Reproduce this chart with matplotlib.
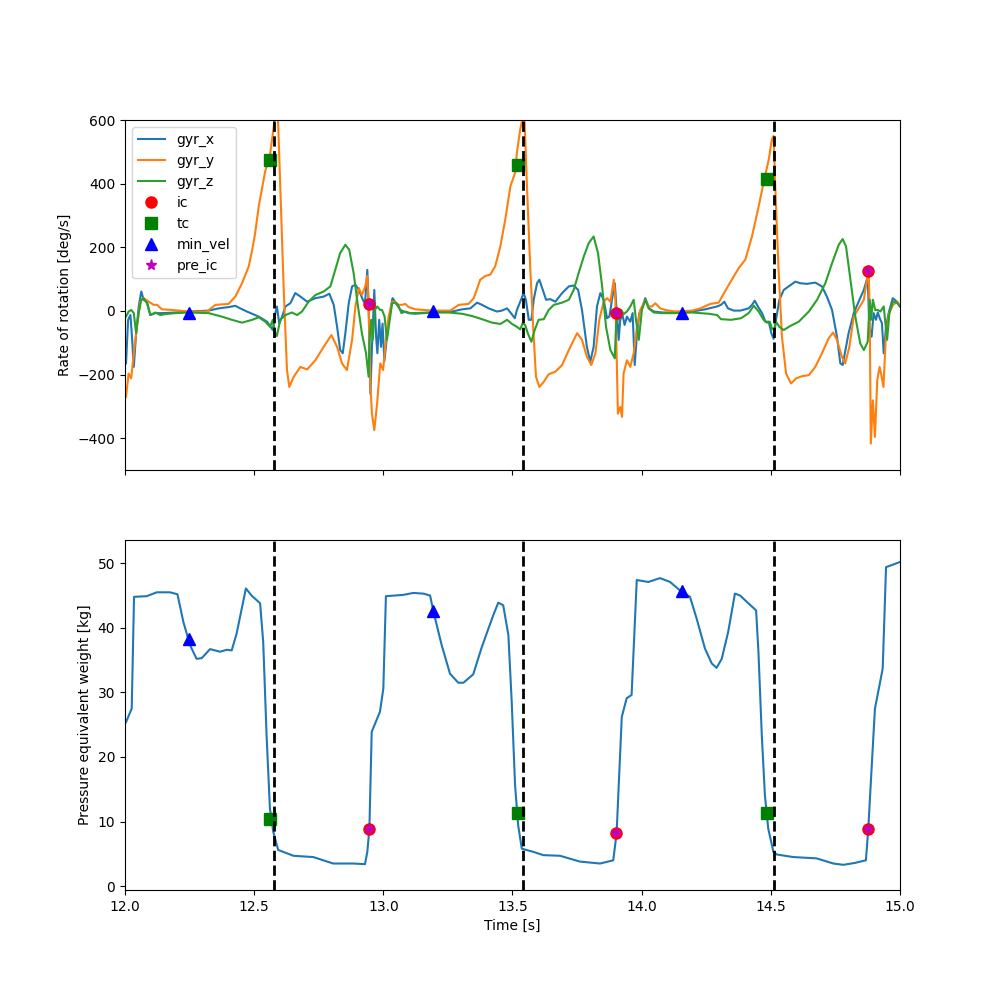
import numpy as np
import matplotlib
matplotlib.use("Agg")
import matplotlib.pyplot as plt

# ---------------------------------------------------------------
# Data (time [s], value)
# ---------------------------------------------------------------
gyr_x_pts = [
    (12.004, -165), (12.012, -28), (12.021, -13), (12.027, -81), (12.034, -176),
    (12.043, -70), (12.053, 14), (12.063, 61), (12.072, 35), (12.085, 29),
    (12.098, -13), (12.117, -7), (12.143, -7), (12.195, -5), (12.247, -2),
    (12.324, 1), (12.363, 8), (12.401, 12), (12.427, 16), (12.446, 8),
    (12.472, -2), (12.492, -9), (12.518, -18), (12.550, -34), (12.572, -60),
    (12.582, -7), (12.588, 14), (12.597, -39), (12.608, -18), (12.621, 14),
    (12.640, 24), (12.659, 56), (12.679, 45), (12.705, 29), (12.737, 40),
    (12.769, 45), (12.791, 54), (12.808, 19), (12.821, -50), (12.833, -123),
    (12.843, -133), (12.853, -70), (12.866, 24), (12.879, 77), (12.892, 82),
    (12.905, 66), (12.924, 29), (12.930, 35), (12.938, 129), (12.943, 14),
    (12.950, -260), (12.956, -113), (12.965, 66), (12.972, -81), (12.977, -133),
    (12.984, -28), (12.991, -113), (12.997, -40), (13.004, -158), (13.018, -50),
    (13.034, 35), (13.036, 40), (13.053, 19), (13.066, 3), (13.079, -2),
    (13.098, -7), (13.124, -9), (13.188, -5), (13.266, -2), (13.305, 5),
    (13.337, 8), (13.363, 26), (13.382, 19), (13.408, 8), (13.440, -2),
    (13.459, 1), (13.479, 8), (13.492, -5), (13.509, -23), (13.517, 3),
    (13.530, 29), (13.543, 56), (13.552, 35), (13.563, -28), (13.573, -28),
    (13.582, 35), (13.595, 87), (13.604, 98), (13.617, 66), (13.630, 35),
    (13.646, 37), (13.666, 29), (13.692, 56), (13.718, 77), (13.737, 80),
    (13.754, 66), (13.769, 3), (13.788, -113), (13.801, -160), (13.814, -113),
    (13.827, 14), (13.840, 56), (13.853, 35), (13.866, -23), (13.875, -18),
    (13.885, 35), (13.896, 87), (13.903, 3), (13.911, -91), (13.917, -28),
    (13.926, -13), (13.934, -44), (13.943, -18), (13.956, -34), (13.965, -7),
    (13.973, -170), (13.982, -70), (13.991, -7), (14.004, 14), (14.014, 40),
    (14.029, 8), (14.047, -2), (14.079, -5), (14.130, -5), (14.195, -2),
    (14.246, 5), (14.292, 14), (14.307, 19), (14.320, 29), (14.334, 8),
    (14.356, 1), (14.382, 1), (14.414, 8), (14.427, 19), (14.438, 32),
    (14.450, 14), (14.466, -7), (14.479, -34), (14.492, -34), (14.502, -70),
    (14.511, -88), (14.520, -28), (14.533, 35), (14.550, 66), (14.569, 77),
    (14.595, 92), (14.614, 87), (14.640, 85), (14.672, 89), (14.698, 77),
    (14.717, 45), (14.737, 3), (14.756, -81), (14.769, -165), (14.778, -170),
    (14.789, -123), (14.801, -70), (14.821, -7), (14.843, 35), (14.860, 66),
    (14.875, 108), (14.881, -50), (14.890, -81), (14.898, -7), (14.907, -28),
    (14.914, -5), (14.924, -28), (14.930, -38), (14.937, -133), (14.946, -50),
    (14.956, -7), (14.972, 40), (14.988, 29), (15.000, 14),
]

gyr_y_pts = [
    (12.004, -270), (12.014, -197), (12.024, -212), (12.034, -133), (12.046, -50),
    (12.059, 29), (12.072, 40), (12.092, 29), (12.111, 19), (12.124, 19),
    (12.143, 5), (12.182, 3), (12.247, -2), (12.317, -2), (12.350, 19),
    (12.401, 22), (12.427, 45), (12.453, 87), (12.479, 140), (12.492, 190),
    (12.503, 240), (12.518, 330), (12.543, 440), (12.562, 495), (12.576, 580),
    (12.585, 680), (12.592, 610), (12.601, 392), (12.614, 77), (12.627, -186),
    (12.636, -239), (12.653, -207), (12.679, -176), (12.705, -184), (12.737, -155),
    (12.769, -113), (12.799, -76), (12.821, -113), (12.840, -165), (12.859, -186),
    (12.879, -91), (12.892, 14), (12.905, 72), (12.917, 50), (12.930, 77),
    (12.938, 110), (12.943, 24), (12.950, -239), (12.956, -323), (12.965, -375),
    (12.976, -291), (12.988, -165), (12.999, -186), (13.010, -90), (13.020, -20),
    (13.034, 29), (13.046, 29), (13.059, 19), (13.072, 19), (13.085, 22),
    (13.098, 12), (13.124, 5), (13.188, 1), (13.259, 1), (13.292, 19),
    (13.330, 22), (13.350, 40), (13.375, 98), (13.395, 110), (13.414, 114),
    (13.433, 140), (13.453, 203), (13.472, 287), (13.492, 392), (13.510, 434),
    (13.517, 497), (13.530, 571), (13.539, 605), (13.543, 615), (13.547, 592),
    (13.556, 392), (13.569, 129), (13.582, -81), (13.591, -207), (13.604, -239),
    (13.621, -223), (13.640, -199), (13.666, -191), (13.692, -170), (13.718, -123),
    (13.750, -70), (13.769, -91), (13.788, -144), (13.805, -170), (13.821, -133),
    (13.836, -28), (13.853, 29), (13.866, 40), (13.879, 29), (13.892, 98),
    (13.898, 40), (13.903, -133), (13.908, -323), (13.917, -302), (13.924, -333),
    (13.930, -197), (13.943, -155), (13.956, -176), (13.969, -133), (13.982, -50),
    (13.995, 3), (14.014, 35), (14.027, 14), (14.040, 14), (14.053, 24),
    (14.072, 8), (14.092, 3), (14.130, -2), (14.195, 1), (14.227, 8),
    (14.266, 22), (14.298, 26), (14.330, 72), (14.376, 135), (14.401, 161),
    (14.427, 234), (14.453, 329), (14.472, 403), (14.492, 476), (14.504, 539),
    (14.511, 550), (14.517, 392), (14.530, 129), (14.543, -81), (14.559, -197),
    (14.578, -228), (14.598, -212), (14.621, -205), (14.647, -202), (14.672, -176),
    (14.698, -133), (14.724, -86), (14.741, -68), (14.756, -91), (14.775, -144),
    (14.788, -165), (14.804, -113), (14.821, -18), (14.840, 8), (14.860, 35),
    (14.872, 98), (14.879, 125), (14.883, -28), (14.887, -417), (14.895, -281),
    (14.903, -396), (14.912, -218), (14.921, -176), (14.929, -207), (14.936, -239),
    (14.945, -81), (14.958, -7), (14.973, 19), (14.990, 29), (15.000, 14),
]

gyr_z_pts = [
    (12.004, -18), (12.014, -2), (12.024, 3), (12.034, -7), (12.043, -70),
    (12.053, -7), (12.063, 35), (12.072, 40), (12.085, 24), (12.098, -13),
    (12.117, -5), (12.137, -13), (12.156, -10), (12.195, -7), (12.247, -5),
    (12.324, -7), (12.375, -18), (12.414, -28), (12.453, -37), (12.479, -31),
    (12.492, -28), (12.518, -20), (12.543, -34), (12.562, -50), (12.572, -28),
    (12.582, -70), (12.588, -79), (12.601, -28), (12.621, -13), (12.646, -5),
    (12.666, -13), (12.685, -2), (12.711, 29), (12.737, 50), (12.769, 61),
    (12.795, 77), (12.814, 129), (12.833, 182), (12.853, 208), (12.868, 192),
    (12.885, 119), (12.902, 14), (12.917, -70), (12.933, -133), (12.943, -207),
    (12.946, -100), (12.953, -28), (12.959, -91), (12.967, 3), (12.976, 14),
    (12.988, 3), (12.995, 3), (13.005, -18), (13.014, -91), (13.023, -39),
    (13.034, 24), (13.044, 26), (13.057, 19), (13.070, -7), (13.085, -2),
    (13.104, -7), (13.188, -5), (13.253, -5), (13.305, -9), (13.343, -16),
    (13.382, -26), (13.421, -37), (13.453, -41), (13.479, -28), (13.498, -41),
    (13.517, -50), (13.530, -58), (13.539, -39), (13.549, -44), (13.559, -70),
    (13.573, -97), (13.586, -60), (13.601, -28), (13.621, -26), (13.640, 3),
    (13.660, 19), (13.692, 26), (13.718, 35), (13.737, 66), (13.756, 119),
    (13.776, 171), (13.795, 213), (13.814, 234), (13.831, 182), (13.847, 77),
    (13.862, -50), (13.879, -123), (13.896, -149), (13.901, -39), (13.908, -7),
    (13.913, -28), (13.921, 3), (13.930, -10), (13.943, -2), (13.956, 14),
    (13.969, 35), (13.978, -28), (13.989, -91), (14.001, 3), (14.014, 35),
    (14.027, 8), (14.047, -5), (14.079, -7), (14.130, -7), (14.195, -5),
    (14.260, -9), (14.292, -13), (14.307, -26), (14.346, -28), (14.385, -23),
    (14.414, -7), (14.434, 16), (14.453, -2), (14.472, -28), (14.485, -37),
    (14.496, -34), (14.504, -55), (14.512, -60), (14.520, -34), (14.533, -50),
    (14.550, -60), (14.576, -47), (14.608, -34), (14.647, -2), (14.679, 35),
    (14.711, 87), (14.737, 150), (14.763, 208), (14.778, 226), (14.791, 203),
    (14.808, 98), (14.827, -18), (14.846, -102), (14.860, -123), (14.875, -97),
    (14.883, 35), (14.888, -28), (14.895, 35), (14.904, 3), (14.914, 3),
    (14.924, -2), (14.937, 14), (14.950, -91), (14.959, -7), (14.972, 29),
    (14.988, 26), (15.000, 14),
]

pressure_pts = [
    (12.004, 25.4), (12.026, 27.5), (12.035, 44.8), (12.084, 44.9), (12.123, 45.5),
    (12.174, 45.5), (12.203, 45.2), (12.226, 40.9), (12.252, 37.3), (12.277, 35.2),
    (12.297, 35.3), (12.329, 36.7), (12.368, 36.3), (12.394, 36.6), (12.413, 36.5),
    (12.432, 39.1), (12.468, 46.1), (12.490, 45.0), (12.523, 43.8), (12.535, 37.8),
    (12.548, 23.4), (12.561, 12.0), (12.574, 8.4), (12.593, 5.6), (12.652, 4.7),
    (12.729, 4.5), (12.806, 3.5), (12.884, 3.5), (12.929, 3.4), (12.938, 5.3),
    (12.946, 8.9), (12.955, 23.9), (12.987, 27.0), (13.000, 30.6), (13.010, 44.9),
    (13.077, 45.1), (13.116, 45.4), (13.155, 45.3), (13.181, 45.0), (13.194, 42.5),
    (13.226, 37.3), (13.258, 32.9), (13.290, 31.5), (13.310, 31.5), (13.348, 32.8),
    (13.381, 37.0), (13.426, 42.0), (13.445, 43.9), (13.464, 43.5), (13.484, 38.9),
    (13.497, 28.5), (13.510, 15.6), (13.522, 9.4), (13.536, 5.8), (13.581, 5.3),
    (13.619, 4.8), (13.684, 4.7), (13.761, 3.8), (13.839, 3.5), (13.890, 4.0),
    (13.903, 8.2), (13.923, 26.2), (13.942, 29.1), (13.961, 29.6), (13.981, 47.4),
    (14.026, 47.1), (14.071, 47.7), (14.110, 47.1), (14.148, 45.8), (14.187, 44.8),
    (14.213, 41.4), (14.245, 36.8), (14.271, 34.5), (14.290, 33.8), (14.310, 35.2),
    (14.335, 39.4), (14.361, 45.3), (14.381, 45.0), (14.413, 43.8), (14.443, 42.7),
    (14.452, 36.3), (14.465, 23.4), (14.477, 14.1), (14.490, 8.9), (14.510, 5.3),
    (14.523, 4.9), (14.587, 4.5), (14.677, 4.3), (14.742, 3.5), (14.781, 3.3),
    (14.826, 3.6), (14.868, 4.0), (14.877, 8.7), (14.890, 18.2), (14.903, 27.5),
    (14.923, 31.6), (14.933, 33.7), (14.946, 49.4), (14.974, 49.8), (15.000, 50.2),
]

# gait events
ic_t = [12.946, 13.902, 14.877]
ic_gyr = [22, -6, 126]
ic_press = [8.8, 8.3, 8.8]
tc_t = [12.563, 13.522, 14.484]
tc_gyr = [473, 460, 413]
tc_press = [10.4, 11.3, 11.3]
min_vel_t = [12.249, 13.193, 14.157]
min_vel_gyr = [-6, 0, -6]
min_vel_press = [38.2, 42.6, 45.7]
pre_ic_t = ic_t
pre_ic_gyr = ic_gyr
pre_ic_press = ic_press
stride_lines = [12.576, 13.541, 14.512]

# ---------------------------------------------------------------
# Plot
# ---------------------------------------------------------------
fig, (ax1, ax2) = plt.subplots(2, 1, figsize=(10, 10), sharex=True)

for name, pts in [("gyr_x", gyr_x_pts), ("gyr_y", gyr_y_pts), ("gyr_z", gyr_z_pts)]:
    t, v = np.array(pts).T
    ax1.plot(t, v, label=name)

ax1.plot(ic_t, ic_gyr, "o", color="red", markersize=8, label="ic")
ax1.plot(tc_t, tc_gyr, "s", color="green", markersize=8, label="tc")
ax1.plot(min_vel_t, min_vel_gyr, "^", color="blue", markersize=9, label="min_vel")
ax1.plot(pre_ic_t, pre_ic_gyr, "*", color="m", markersize=8, label="pre_ic")
for x in stride_lines:
    ax1.axvline(x, color="k", linestyle="--", linewidth=2)
ax1.set_ylim(-500, 600)
ax1.set_ylabel("Rate of rotation [deg/s]")
ax1.legend(loc="upper left")

t, v = np.array(pressure_pts).T
ax2.plot(t, v)
ax2.plot(ic_t, ic_press, "o", color="red", markersize=8)
ax2.plot(tc_t, tc_press, "s", color="green", markersize=8)
ax2.plot(min_vel_t, min_vel_press, "^", color="blue", markersize=9)
ax2.plot(pre_ic_t, pre_ic_press, "*", color="m", markersize=8)
for x in stride_lines:
    ax2.axvline(x, color="k", linestyle="--", linewidth=2)
ax2.set_ylim(-0.6, 53.6)
ax2.set_xlim(12, 15)
ax2.set_ylabel("Pressure equivalent weight [kg]")
ax2.set_xlabel("Time [s]")

plt.savefig("out.png", dpi=100)
